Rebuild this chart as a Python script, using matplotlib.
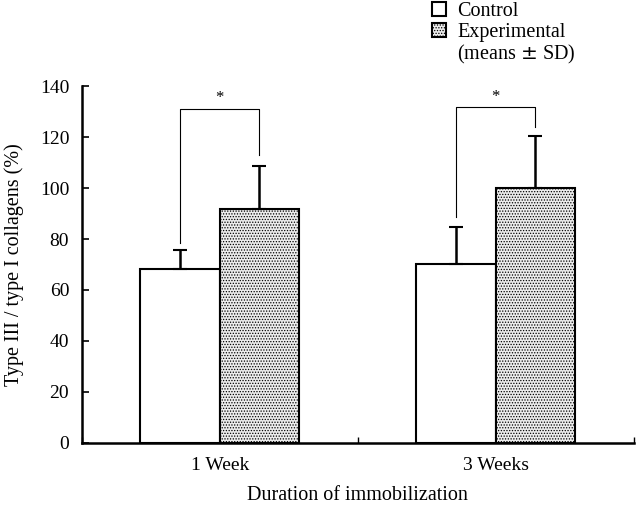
import numpy as np
import matplotlib
matplotlib.use("Agg")
import matplotlib.pyplot as plt
from matplotlib.patches import Patch

# data
groups = ["1 Week", "3 Weeks"]
control = [68.2, 70.2]
control_sd = [7.3, 14.5]
experimental = [91.6, 100.1]
experimental_sd = [17.1, 20.4]
# significance brackets: (bracket height, left arm bottom, right arm bottom)
brackets = [(131.0, 78.4, 113.0), (131.6, 88.7, 124.0)]

plt.rcParams['font.family'] = ['Liberation Serif', 'DejaVu Serif']
plt.rcParams['hatch.color'] = '#8c8c8c'
plt.rcParams['hatch.linewidth'] = 0.6

fig = plt.figure(figsize=(6.36, 5.09), dpi=100)
ax = fig.add_axes([0.1285, 0.1297, 0.868, 0.7013])

centers = np.arange(len(groups)) + 0.5
w = 0.2875
xc = centers - w / 2
xe = centers + w / 2

ax.bar(xc, control, width=w, color='white', edgecolor='black', linewidth=1.5, zorder=2)
ax.bar(xe, experimental, width=w, color='#ececec', edgecolor='black', linewidth=1.5,
       hatch='......', zorder=2)

# upper error bars only
ax.errorbar(xc, control, yerr=[np.zeros(2), control_sd], fmt='none', ecolor='black',
            elinewidth=1.8, capsize=5, capthick=1.5, zorder=3)
ax.errorbar(xe, experimental, yerr=[np.zeros(2), experimental_sd], fmt='none', ecolor='black',
            elinewidth=1.8, capsize=5, capthick=1.5, zorder=3)

for i, (top, lb, rb) in enumerate(brackets):
    ax.plot([xc[i], xc[i], xe[i], xe[i]], [lb, top, top, rb], color='black', lw=0.8, zorder=3)
    ax.text(centers[i], top + 1.0, '*', ha='center', va='bottom', fontsize=12)

ax.set_xlim(0, 2)
ax.set_ylim(0, 140)
ax.set_yticks(np.arange(0, 141, 20))
ax.set_xticks([0, 1, 2])
ax.set_xticklabels([])
ax.set_xticks(centers, minor=True)
ax.set_xticklabels(groups, minor=True, fontsize=14)
ax.tick_params(axis='x', which='minor', length=0, pad=10)
ax.tick_params(axis='x', which='major', direction='in', length=4, width=1)
ax.tick_params(axis='y', direction='in', length=5, width=1.2, labelsize=14, pad=9)

ax.spines['top'].set_visible(False)
ax.spines['right'].set_visible(False)
ax.spines['left'].set_linewidth(1.8)
ax.spines['bottom'].set_linewidth(1.8)

ax.set_xlabel('Duration of immobilization', fontsize=14.5, labelpad=9)
ax.set_ylabel('Type III / type I collagens (%)', fontsize=14.5, labelpad=11)

handles = [Patch(facecolor='white', edgecolor='black', linewidth=1.5),
           Patch(facecolor='#ececec', edgecolor='black', linewidth=1.5, hatch='......'),
           Patch(facecolor='none', edgecolor='none')]
fig.legend(handles, ['Control', 'Experimental', '(means $\\pm$ SD)'], loc='upper left',
           bbox_to_anchor=(0.679, 0.996), frameon=False, fontsize=14.5,
           borderpad=0, borderaxespad=0,
           handlelength=0.7, handleheight=0.7, handletextpad=0.55, labelspacing=0.08)

plt.savefig('out.png', dpi=100)
